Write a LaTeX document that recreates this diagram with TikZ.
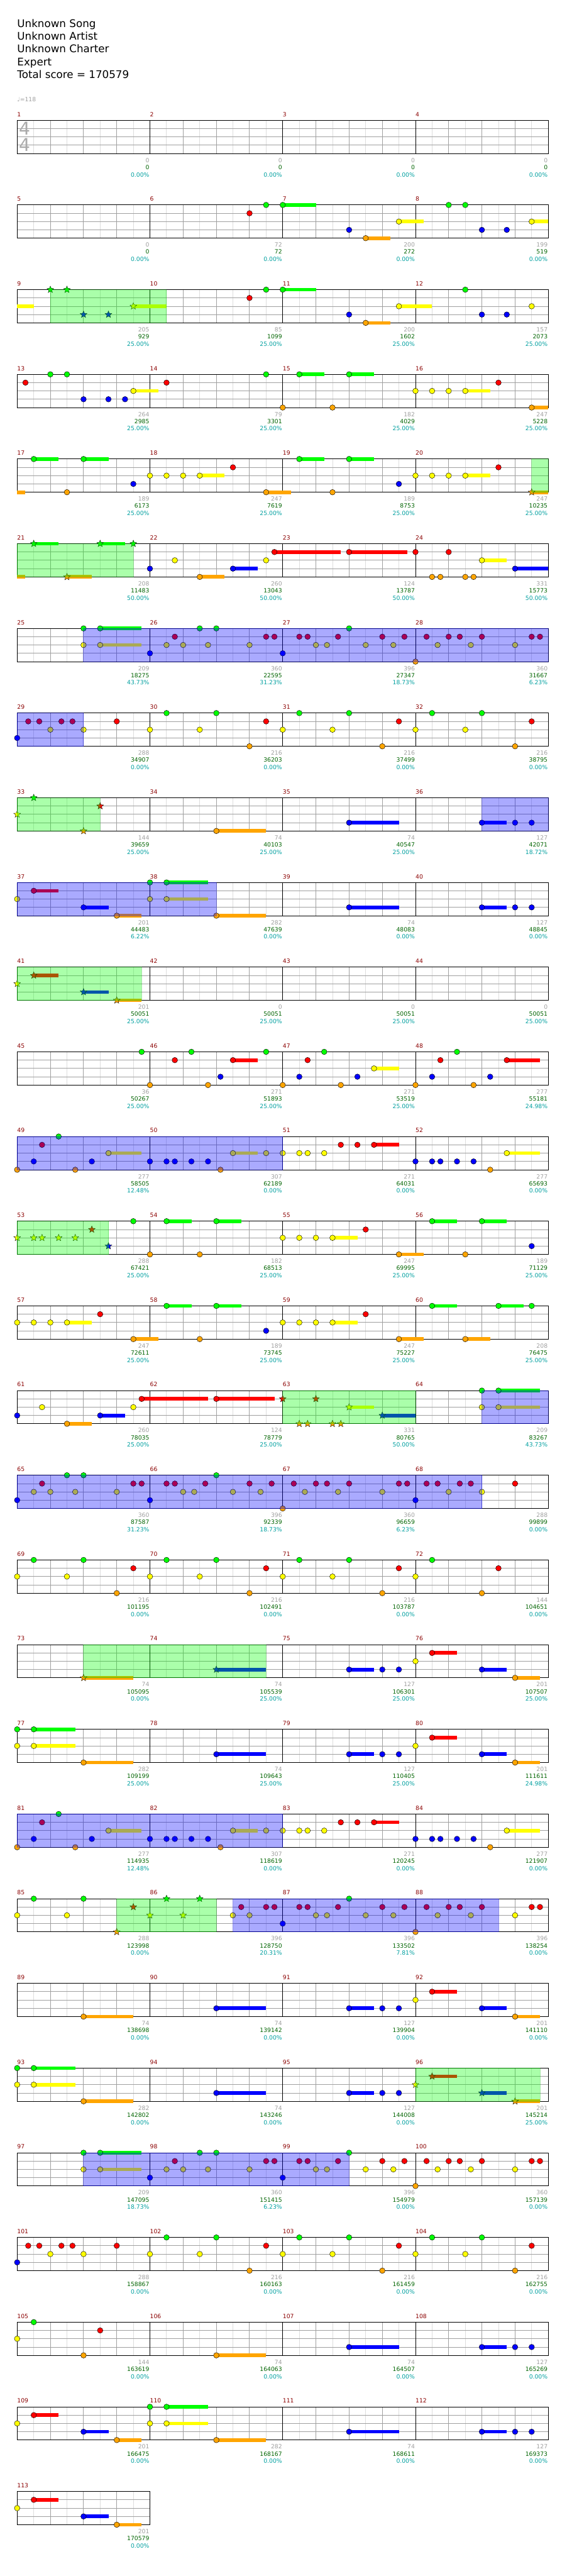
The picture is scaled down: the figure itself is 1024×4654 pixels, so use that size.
\documentclass[tikz,border=0pt]{standalone}
\usepackage{fontspec}
\setmainfont{DejaVu Sans}
\usetikzlibrary{shapes.geometric}
\definecolor{lane0}{HTML}{00FF00}
\definecolor{lane1}{HTML}{FF0000}
\definecolor{lane2}{HTML}{FFFF00}
\definecolor{lane3}{HTML}{0000FF}
\definecolor{lane4}{HTML}{FFA500}
\definecolor{mred}{HTML}{8B0000}
\definecolor{ptgray}{HTML}{A0A0A0}
\definecolor{totgreen}{HTML}{006400}
\definecolor{pctteal}{HTML}{00A0A0}
\definecolor{gridlight}{HTML}{DDDDDD}
\definecolor{gridmid}{HTML}{A0A0A0}
\definecolor{sigray}{HTML}{AAAAAA}

\newcommand\numfont{\fontsize{10.5}{12}\selectfont}
\newcommand\headfont{\fontsize{19}{23}\selectfont}

% position of a gem: measure, eighth, lane
\newcommand\setpos[3]{%
  \pgfmathsetmacro\px{31+240*mod(#1-1,4)+30*(#2)}%
  \pgfmathsetmacro\py{217.3+153*floor((#1-1)/4)+15*(#3)}}
\newcommand\gem[3]{\setpos{#1}{#2}{#3}%
  \filldraw[gemline, fill=lane#3] (\px,\py) circle[radius=5pt];}
\newcommand\gems[2]{\foreach \p/\l in {#2} {\gem{#1}{\p}{\l}}}
\newcommand\sus[4]{\setpos{#1}{#2}{#3}%
  \pgfmathsetmacro\ex{min(\px+30*(#4),991)}%
  \fill[lane#3] (\px,\py-3.25) rectangle (\ex,\py+3.25);
  \filldraw[gemline, fill=lane#3] (\px,\py) circle[radius=5pt];}
\newcommand\tail[3]{\setpos{#1}{0}{#2}%
  \fill[lane#2] (\px,\py-3.25) rectangle (\px+30*#3,\py+3.25);}
\newcommand\stars[2]{\foreach \p/\l in {#2} {%
  \setpos{#1}{\p}{\l}\node[starhead, fill=lane\l] at (\px,\py) {};}}
\newcommand\starsus[4]{\setpos{#1}{#2}{#3}%
  \pgfmathsetmacro\ex{min(\px+30*(#4),991)}%
  \fill[lane#3] (\px,\py-3.25) rectangle (\ex,\py+3.25);
  \node[starhead, fill=lane#3] at (\px,\py) {};}
% star power and overdrive areas: measure, from, to (eighths)
\newcommand\spzone[3]{\setpos{#1}{#2}{0}%
  \pgfmathsetmacro\ex{31+240*mod(#1-1,4)+30*(#3)}%
  \filldraw[spfill] (\px,\py) rectangle (\ex,\py+60);}
\newcommand\odzone[3]{\setpos{#1}{#2}{0}%
  \pgfmathsetmacro\ex{31+240*mod(#1-1,4)+30*(#3)}%
  \filldraw[odfill] (\px,\py) rectangle (\ex,\py+60);}
\newcommand\measuregrid[1]{\setpos{#1}{0}{0}%
  \foreach \k in {1,3,5,7} \draw[eighthline] (\px+30*\k,\py) -- ++(0,60);
  \foreach \k in {2,4,6} \draw[beatline] (\px+30*\k,\py) -- ++(0,60);
  \foreach \k in {1,2,3} \draw[beatline] (\px,\py+15*\k) -- ++(240,0);
  \draw[barline] (\px,\py) rectangle ++(240,60);
  \node[mnum] at (\px,\py-7) {#1};}
\newcommand\scores[4]{\setpos{#1}{8}{4}%
  \node[ptnum] at (\px-1,\py+16) {#2};
  \node[totnum] at (\px-1,\py+28.7) {#3};
  \node[pctnum] at (\px-1,\py+42) {#4\%};}
% riffs that come back
\newcommand\tripA[1]{\gems{#1}{0/3, 1/2, 1.5/1, 2/2, 3/0, 3.5/2, 4/0, 6/2, 7/1, 7.5/1}}
\newcommand\tripB[1]{\gems{#1}{0/3, 1/1, 1.5/1, 2/2, 2.667/2, 3.333/1, 4/0, 5/2, 6/1, 6.667/2, 7.333/1}}
\newcommand\tripC[1]{\gems{#1}{0/4, 0.667/1, 1.333/2, 2/1, 2.667/1, 3.333/2, 4/1, 6/2, 7/1, 7.5/1}}
\newcommand\tripD[1]{\gems{#1}{0/3, 0.667/1, 1.333/1, 2/2, 2.667/1, 3.333/1, 4/2, 6/1}}
\newcommand\groove[1]{\gems{#1}{0/2, 1/0, 3/2, 4/0, 6/4, 7/1}}
\newcommand\chordin[1]{\gems{#1}{4/0, 4/2} \sus{#1}{5}{0}{2.5} \sus{#1}{5}{2}{2.5}}
\newcommand\mixsus[1]{\gems{#1}{0/2} \sus{#1}{1}{1}{1.5} \sus{#1}{4}{3}{1.5} \sus{#1}{6}{4}{1.5}}
\newcommand\duosus[1]{\gems{#1}{0/0, 0/2} \sus{#1}{1}{0}{2.5} \sus{#1}{1}{2}{2.5} \sus{#1}{4}{4}{3}}
\newcommand\bluerun[1]{\sus{#1}{4}{3}{1.5} \gems{#1}{6/3, 7/3}}
\newcommand\runA[1]{\gems{#1}{0/4, 1/3, 1.5/1, 2.5/0, 3.5/4, 4.5/3} \sus{#1}{5.5}{2}{2}}
\newcommand\runB[1]{\gems{#1}{0/3, 1/3, 1.5/3, 2.5/3, 3.5/3, 4.25/4, 7/2} \sus{#1}{5}{2}{1.5}}
\newcommand\runC[1]{\gems{#1}{0/2, 1/2, 1.5/2, 2.5/2, 3.5/1, 4.5/1} \sus{#1}{5.5}{1}{1.5}}
\newcommand\runD[1]{\gems{#1}{0/3, 1/3, 1.5/3, 2.5/3, 3.5/3, 4.5/4} \sus{#1}{5.5}{2}{2}}

\tikzset{
  gemline/.style={draw=black, line width=0.5pt},
  starhead/.style={star, star points=5, star point ratio=2.3, minimum size=13pt,
    inner sep=0pt, draw=black, line width=0.4pt},
  eighthline/.style={gridlight, line width=1pt},
  beatline/.style={gridmid, line width=1pt},
  barline/.style={black, line width=1pt},
  mnum/.style={font=\numfont, text=mred, inner sep=0pt, anchor=base west},
  ptnum/.style={font=\numfont, text=ptgray, inner sep=0pt, anchor=base east},
  totnum/.style={ptnum, text=totgreen},
  pctnum/.style={ptnum, text=pctteal},
  spfill/.style={fill=green, draw=green!70!black, fill opacity=0.333, draw opacity=0.333, line width=1pt},
  odfill/.style={fill=blue, draw=blue, fill opacity=0.333, draw opacity=0.333, line width=1pt},
}

\begin{document}
\begin{tikzpicture}[x=1pt, y=-1pt]
  \useasboundingbox[fill=white] (0,0) rectangle (1024,4654);
  % Header
  \foreach \t [count=\i from 0] in {Unknown Song, Unknown Artist, Unknown Charter, Expert, Total score = 170579}
    \node[anchor=base west, inner sep=0pt, font=\headfont] at (31,49.3+23*\i) {\t};
  \node[anchor=base west, inner sep=0pt, font=\numfont, text=ptgray] at (31,184) {♩=118};
  % Staff
  \foreach \m in {1,...,113} {\measuregrid{\m}}
  \node[inner sep=0pt, font=\fontsize{32}{32}\selectfont, text=sigray] at (44.5,231.7) {4};
  \node[inner sep=0pt, font=\fontsize{32}{32}\selectfont, text=sigray] at (44.5,262) {4};

  % Notes
  \gems{6}{6/1, 7/0}
  \sus{7}{0}{0}{2} \gems{7}{4/3} \sus{7}{5}{4}{1.5} \sus{7}{7}{2}{1.5}
  \gems{8}{2/0, 3/0, 4/3, 5.5/3} \sus{8}{7}{2}{2}
  \tail{9}{2}{1} \stars{9}{2/0, 3/0, 4/3, 5.5/3} \starsus{9}{7}{2}{2}
  \gems{10}{6/1, 7/0}
  \sus{11}{0}{0}{2} \gems{11}{4/3} \sus{11}{5}{4}{1.5} \sus{11}{7}{2}{2}
  \gems{12}{3/0, 4/3, 5.5/3, 7/2}
  \gems{13}{0.5/1, 2/0, 3/0, 4/3, 5.5/3, 6.5/3} \sus{13}{7}{2}{1.5}
  \gems{14}{1/1, 7/0}
  \sus{15}{1}{0}{1.5} \sus{15}{4}{0}{1.5} \gems{15}{0/4, 3/4}
  \gems{16}{0/2, 1/2, 2/2, 5/1} \sus{16}{3}{2}{1.5} \sus{16}{7}{4}{1.5}
  \tail{17}{4}{0.5} \sus{17}{1}{0}{1.5} \sus{17}{4}{0}{1.5} \gems{17}{3/4, 7/3}
  \gems{18}{0/2, 1/2, 2/2, 5/1} \sus{18}{3}{2}{1.5} \sus{18}{7}{4}{1.5}
  \sus{19}{1}{0}{1.5} \sus{19}{4}{0}{1.5} \gems{19}{3/4, 7/3}
  \gems{20}{0/2, 1/2, 2/2, 5/1} \sus{20}{3}{2}{1.5} \starsus{20}{7}{4}{1.5}
  \tail{21}{4}{0.5} \starsus{21}{1}{0}{1.5} \starsus{21}{3}{4}{1.5} \starsus{21}{5}{0}{1.5} \stars{21}{7/0}
  \gems{22}{0/3, 1.5/2, 7/2} \sus{22}{3}{4}{1.5} \sus{22}{5}{3}{1.5} \sus{22}{7.5}{1}{4}
  \sus{23}{4}{1}{3.5}
  \gems{24}{0/1, 1/4, 1.5/4, 2/1, 3/4, 3.5/4} \sus{24}{4}{2}{1.5} \sus{24}{6}{3}{2}
  \chordin{25} \tripA{26} \tripB{27} \tripC{28} \tripD{29}
  \groove{30} \groove{31} \groove{32}
  \stars{33}{0/2, 1/0, 4/4, 5/1}
  \sus{34}{4}{4}{3}
  \sus{35}{4}{3}{3}
  \bluerun{36} \mixsus{37} \duosus{38}
  \sus{39}{4}{3}{3}
  \bluerun{40}
  \stars{41}{0/2} \starsus{41}{1}{1}{1.5} \starsus{41}{4}{3}{1.5} \starsus{41}{6}{4}{1.5}
  \gems{45}{7.5/0}
  \sus{46}{5}{1}{1.5} \gems{46}{0/4, 1.5/1, 2.5/0, 3.5/4, 4.25/3, 7/0}
  \gems{47}{0/4, 1/3, 1.5/1, 2.5/0, 3.5/4, 4.5/3} \sus{47}{5.5}{2}{1.5}
  \gems{48}{0/4, 1/3, 1.5/1, 2.5/0, 3.5/4, 4.5/3} \sus{48}{5.5}{1}{2}
  \runA{49} \runB{50} \runC{51} \runD{52}
  \stars{53}{0/2, 1/2, 1.5/2, 2.5/2, 3.5/2, 4.5/1, 5.5/3} \gems{53}{7/0}
  \sus{54}{1}{0}{1.5} \sus{54}{4}{0}{1.5} \gems{54}{0/4, 3/4}
  \gems{55}{0/2, 1/2, 2/2, 5/1} \sus{55}{3}{2}{1.5} \sus{55}{7}{4}{1.5}
  \sus{56}{1}{0}{1.5} \sus{56}{4}{0}{1.5} \gems{56}{3/4, 7/3}
  \gems{57}{0/2, 1/2, 2/2, 5/1} \sus{57}{3}{2}{1.5} \sus{57}{7}{4}{1.5}
  \sus{58}{1}{0}{1.5} \sus{58}{4}{0}{1.5} \gems{58}{3/4, 7/3}
  \gems{59}{0/2, 1/2, 2/2, 5/1} \sus{59}{3}{2}{1.5} \sus{59}{7}{4}{1.5}
  \sus{60}{1}{0}{1.5} \sus{60}{3}{4}{1.5} \sus{60}{5}{0}{1.5} \gems{60}{7/0}
  \gems{61}{0/3, 1.5/2, 7/2} \sus{61}{3}{4}{1.5} \sus{61}{5}{3}{1.5} \sus{61}{7.5}{1}{4}
  \sus{62}{4}{1}{3.5}
  \stars{63}{0/1, 1/4, 1.5/4, 2/1, 3/4, 3.5/4} \starsus{63}{4}{2}{1.5} \starsus{63}{6}{3}{2}
  \chordin{64} \tripA{65} \tripB{66} \tripC{67} \tripD{68}
  \groove{69} \groove{70} \groove{71} \gems{72}{0/2, 1/0, 4/4, 5/1}
  \starsus{73}{4}{4}{3} \starsus{74}{4}{3}{3} \bluerun{75} \mixsus{76}
  \duosus{77} \sus{78}{4}{3}{3} \bluerun{79} \mixsus{80}
  \runA{81} \runB{82} \runC{83} \runD{84}
  \gems{85}{0/2, 1/0, 3/2, 4/0} \stars{85}{6/4, 7/1}
  \stars{86}{0/2, 1/0, 2/2, 3/0} \gems{86}{5/2, 5.5/1, 6/2, 7/1, 7.5/1}
  \tripB{87} \tripC{88}
  \sus{89}{4}{4}{3} \sus{90}{4}{3}{3} \bluerun{91} \mixsus{92}
  \duosus{93} \sus{94}{4}{3}{3} \bluerun{95}
  \stars{96}{0/2} \starsus{96}{1}{1}{1.5} \starsus{96}{4}{3}{1.5} \starsus{96}{6}{4}{1.5}
  \chordin{97} \tripA{98} \tripB{99} \tripC{100}
  \tripD{101} \groove{102} \groove{103} \groove{104}
  \gems{105}{0/2, 1/0, 4/4, 5/1} \sus{106}{4}{4}{3} \sus{107}{4}{3}{3} \bluerun{108}
  \mixsus{109} \duosus{110} \sus{111}{4}{3}{3} \bluerun{112}
  \mixsus{113}

  % Star power phrases
  \spzone{9}{2}{9} \spzone{20}{7}{8} \spzone{21}{0}{7} \spzone{33}{0}{5}
  \spzone{41}{0}{7.5} \spzone{53}{0}{5.5} \spzone{63}{0}{8} \spzone{73}{4}{15}
  \spzone{85}{6}{12} \spzone{96}{0}{7.5}
  % Star power in use
  \odzone{25}{4}{32} \odzone{29}{0}{4} \odzone{36}{4}{8} \odzone{37}{0}{12}
  \odzone{49}{0}{16} \odzone{64}{4}{8} \odzone{65}{0}{28} \odzone{81}{0}{16}
  \odzone{86}{5}{21} \odzone{97}{4}{20}

  % Scores
  \foreach \m/\a/\b/\c in {1/0/0/0.00, 2/0/0/0.00, 3/0/0/0.00, 4/0/0/0.00,
    5/0/0/0.00, 6/72/72/0.00, 7/200/272/0.00, 8/199/519/0.00,
    9/205/929/25.00, 10/85/1099/25.00, 11/200/1602/25.00, 12/157/2073/25.00,
    13/264/2985/25.00, 14/79/3301/25.00, 15/182/4029/25.00, 16/247/5228/25.00,
    17/189/6173/25.00, 18/247/7619/25.00, 19/189/8753/25.00, 20/247/10235/25.00,
    21/208/11483/50.00, 22/260/13043/50.00, 23/124/13787/50.00, 24/331/15773/50.00,
    25/209/18275/43.73, 26/360/22595/31.23, 27/396/27347/18.73, 28/360/31667/6.23,
    29/288/34907/0.00, 30/216/36203/0.00, 31/216/37499/0.00, 32/216/38795/0.00,
    33/144/39659/25.00, 34/74/40103/25.00, 35/74/40547/25.00, 36/127/42071/18.72,
    37/201/44483/6.22, 38/282/47639/0.00, 39/74/48083/0.00, 40/127/48845/0.00,
    41/201/50051/25.00, 42/0/50051/25.00, 43/0/50051/25.00, 44/0/50051/25.00,
    45/36/50267/25.00, 46/271/51893/25.00, 47/271/53519/25.00, 48/277/55181/24.98,
    49/277/58505/12.48, 50/307/62189/0.00, 51/271/64031/0.00, 52/277/65693/0.00,
    53/288/67421/25.00, 54/182/68513/25.00, 55/247/69995/25.00, 56/189/71129/25.00,
    57/247/72611/25.00, 58/189/73745/25.00, 59/247/75227/25.00, 60/208/76475/25.00,
    61/260/78035/25.00, 62/124/78779/25.00, 63/331/80765/50.00, 64/209/83267/43.73,
    65/360/87587/31.23, 66/396/92339/18.73, 67/360/96659/6.23, 68/288/99899/0.00,
    69/216/101195/0.00, 70/216/102491/0.00, 71/216/103787/0.00, 72/144/104651/0.00,
    73/74/105095/0.00, 74/74/105539/25.00, 75/127/106301/25.00, 76/201/107507/25.00,
    77/282/109199/25.00, 78/74/109643/25.00, 79/127/110405/25.00, 80/201/111611/24.98,
    81/277/114935/12.48, 82/307/118619/0.00, 83/271/120245/0.00, 84/277/121907/0.00,
    85/288/123998/0.00, 86/396/128750/20.31, 87/396/133502/7.81, 88/396/138254/0.00,
    89/74/138698/0.00, 90/74/139142/0.00, 91/127/139904/0.00, 92/201/141110/0.00,
    93/282/142802/0.00, 94/74/143246/0.00, 95/127/144008/0.00, 96/201/145214/25.00,
    97/209/147095/18.73, 98/360/151415/6.23, 99/396/154979/0.00, 100/360/157139/0.00,
    101/288/158867/0.00, 102/216/160163/0.00, 103/216/161459/0.00, 104/216/162755/0.00,
    105/144/163619/0.00, 106/74/164063/0.00, 107/74/164507/0.00, 108/127/165269/0.00,
    109/201/166475/0.00, 110/282/168167/0.00, 111/74/168611/0.00, 112/127/169373/0.00,
    113/201/170579/0.00}
    {\scores{\m}{\a}{\b}{\c}}
\end{tikzpicture}
\end{document}
